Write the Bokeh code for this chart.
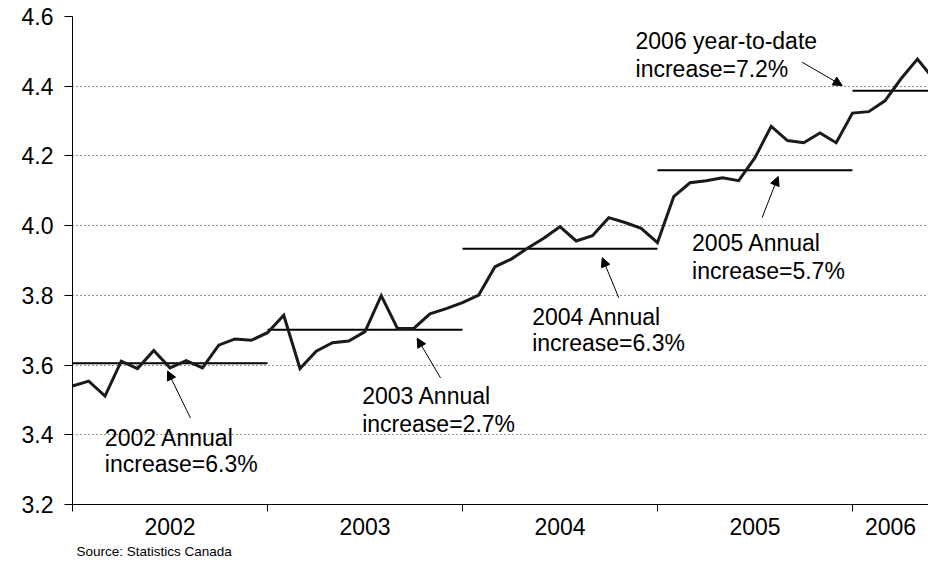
from bokeh.plotting import figure
from bokeh.models import Range1d, FixedTicker, Arrow, NormalHead, ColumnDataSource, Title
from bokeh.core.properties import value
from bokeh.embed import file_html
from bokeh.resources import INLINE

# Monthly index values, January of each year onward
v2002 = [3.540, 3.554, 3.511, 3.611, 3.590, 3.642, 3.592, 3.613, 3.592, 3.657, 3.675, 3.671]
v2003 = [3.693, 3.743, 3.590, 3.640, 3.664, 3.669, 3.696, 3.799, 3.705, 3.705, 3.747, 3.762]
v2004 = [3.779, 3.801, 3.882, 3.904, 3.935, 3.964, 3.997, 3.956, 3.971, 4.023, 4.009, 3.992]
v2005 = [3.951, 4.083, 4.123, 4.129, 4.137, 4.129, 4.195, 4.285, 4.244, 4.238, 4.266, 4.238]
v2006 = [4.323, 4.327, 4.358, 4.422, 4.478, 4.420]

years = ["2002", "2003", "2004", "2005", "2006"]
annual_avg = [3.605, 3.701, 3.934, 4.159, 4.387]
note_line1 = ["2002 Annual", "2003 Annual", "2004 Annual", "2005 Annual", "2006 year-to-date"]
note_line2 = ["increase=6.3%", "increase=2.7%", "increase=6.3%", "increase=5.7%", "increase=7.2%"]

y_ticks = [3.2, 3.4, 3.6, 3.8, 4.0, 4.2, 4.4, 4.6]
y_tick_labels = ["3.2", "3.4", "3.6", "3.8", "4.0", "4.2", "4.4", "4.6"]

FONT = "Liberation Sans"

series = v2002 + v2003 + v2004 + v2005 + v2006
month_idx = list(range(len(series)))          # months since January 2002
x_end = 52.68                                  # visible window ends in late May 2006

year_start = [12 * k for k in range(len(years))]
year_stop = [min(s + 12, x_end) for s in year_start]
year_mid = [(a + b) / 2 for a, b in zip(year_start, year_stop)]

p = figure(width=928, height=562,
           x_range=Range1d(0, x_end), y_range=Range1d(3.2, 4.6),
           output_backend="svg", toolbar_location=None,
           min_border_left=72, min_border_right=0,
           min_border_top=16, min_border_bottom=58)
p.outline_line_color = None
p.background_fill_color = "white"
p.border_fill_color = "white"

# y axis
p.yaxis.ticker = FixedTicker(ticks=y_ticks)
p.yaxis.major_label_overrides = dict(zip(y_ticks, y_tick_labels))
p.yaxis.major_tick_out = 8
p.yaxis.major_tick_in = 0
p.yaxis.minor_tick_line_color = None
p.yaxis.axis_line_color = "black"
p.yaxis.major_tick_line_color = "black"
p.yaxis.major_label_text_font = FONT
p.yaxis.major_label_text_font_size = "23px"
p.yaxis.major_label_text_color = "black"
p.yaxis.major_label_standoff = 11

# x axis: year names centred in each year, separators as minor ticks
p.xaxis.ticker = FixedTicker(ticks=year_mid, minor_ticks=year_start)
p.xaxis.major_label_overrides = dict(zip(year_mid, years))
p.xaxis.major_tick_out = 0
p.xaxis.major_tick_in = 0
p.xaxis.minor_tick_out = 7
p.xaxis.minor_tick_in = 0
p.xaxis.minor_tick_line_color = "black"
p.xaxis.axis_line_color = "black"
p.xaxis.major_label_text_font = FONT
p.xaxis.major_label_text_font_size = "23px"
p.xaxis.major_label_text_color = "black"
p.xaxis.major_label_standoff = 6

p.xgrid.grid_line_color = None
p.ygrid.ticker = FixedTicker(ticks=y_ticks)
p.ygrid.grid_line_color = "#262626"
p.ygrid.grid_line_dash = "1 3"
p.ygrid.grid_line_width = 1

# source line under the year labels
p.add_layout(Title(text="Source: Statistics Canada", align="left", offset=4, standoff=8,
                   text_font=FONT, text_font_size="13.5px", text_font_style="normal",
                   text_color="black"), "below")

# annual averages
p.segment(x0=year_start, x1=[s + 12 for s in year_start], y0=annual_avg, y1=annual_avg,
          line_color="black", line_width=2)

# monthly series
p.line(month_idx, series, line_color="#1a1a1a", line_width=3, line_join="miter")

# notes and pointers
note_x = [1.99, 17.83, 28.29, 38.13, 34.65]
note_y1 = [3.391, 3.510, 3.739, 3.951, 4.529]
note_y2 = [3.315, 3.431, 3.662, 3.870, 4.450]
notes = ColumnDataSource(dict(x=note_x + note_x, y=note_y1 + note_y2, t=note_line1 + note_line2))
p.text(x="x", y="y", text="t", source=notes, text_font=value(FONT), text_font_size="23px",
       text_align="left", text_baseline="alphabetic", text_color="black")

arrow_head_x = [5.85, 21.21, 32.60, 43.43, 47.37]
arrow_tail_x = [7.26, 22.65, 33.62, 42.44, 44.90]
head_gap = [-0.022, -0.024, -0.026, -0.018, 0.015]
tail_gap = [-0.157, -0.138, -0.141, -0.136, 0.082]
arrows = ColumnDataSource(dict(
    x0=arrow_tail_x, y0=[a + g for a, g in zip(annual_avg, tail_gap)],
    x1=arrow_head_x, y1=[a + g for a, g in zip(annual_avg, head_gap)]))
p.add_layout(Arrow(end=NormalHead(size=9, fill_color="black", line_color="black", line_width=1),
                   x_start="x0", y_start="y0", x_end="x1", y_end="y1",
                   line_color="black", line_width=1, source=arrows))

open("out.html", "w").write(file_html(p, INLINE))
